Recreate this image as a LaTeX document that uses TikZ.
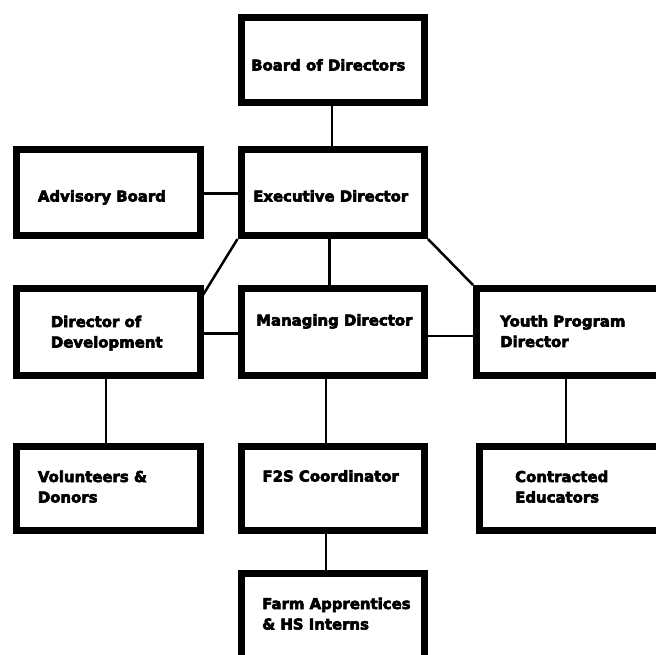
\documentclass[tikz,border=0pt]{standalone}
\usepackage{fontspec}
\newfontfamily\lblfont{DejaVu Sans}[BoldFeatures={FakeBold=4}]
\begin{document}
\begin{tikzpicture}[x=1pt,y=-1pt,
  box/.style={draw=black,line width=7pt,fill=white,rectangle,inner sep=0pt},
  lbl/.style={anchor=base west,inner sep=0pt,align=left,text=black,
    font=\lblfont\bfseries\fontsize{14.9}{20.5}\selectfont},
  conn/.style={draw=black,line width=2.5pt}]
\useasboundingbox (0,0) rectangle (656,654);
\clip (0,0) rectangle (656,654);
\fill[white] (0,0) rectangle (656,654);
% coordinates for connector positions
\coordinate (xa) at (331.8,0);
\coordinate (xb) at (329.3,0);
\coordinate (xc) at (326,0);
\coordinate (xd) at (106,0);
\coordinate (xe) at (566,0);
\coordinate (ya) at (0,193.3);
\coordinate (yb) at (0,333.3);
\coordinate (yc) at (0,336);
\coordinate (devhit) at (200.5,299);
% boxes
\node[box,minimum width=183.5pt,minimum height=84.5pt] (board) at (332.75,59.75) {};
\node[box,minimum width=183.5pt,minimum height=86pt] (exec) at (332.75,192.5) {};
\node[box,minimum width=184.5pt,minimum height=86pt] (adv) at (108.25,192.5) {};
\node[box,minimum width=184.5pt,minimum height=87pt] (dev) at (108.25,332) {};
\node[box,minimum width=183.5pt,minimum height=87pt] (mgr) at (332.75,332) {};
\node[box,minimum width=200pt,minimum height=87pt] (youth) at (576.5,332) {};
\node[box,minimum width=184.5pt,minimum height=83.5pt] (vol) at (108.25,488.25) {};
\node[box,minimum width=183.5pt,minimum height=83.5pt] (f2s) at (332.75,488.25) {};
\node[box,minimum width=197pt,minimum height=83.5pt] (contr) at (578,488.25) {};
\node[box,minimum width=183.5pt,minimum height=103.5pt] (farm) at (332.75,624.75) {};
% connectors
\draw[conn] (board.south -| xa) -- (exec.north -| xa);
\draw[conn] (adv.east |- ya) -- (exec.west |- ya);
\draw[conn] (exec.south west) -- (devhit);
\draw[conn] (exec.south -| xb) -- (mgr.north -| xb);
\draw[conn] (exec.south east) -- (youth.north west);
\draw[conn] (dev.east |- yb) -- (mgr.west |- yb);
\draw[conn] (mgr.east |- yc) -- (youth.west |- yc);
\draw[conn] (dev.south -| xd) -- (vol.north -| xd);
\draw[conn] (mgr.south -| xc) -- (f2s.north -| xc);
\draw[conn] (youth.south -| xe) -- (contr.north -| xe);
\draw[conn] (f2s.south -| xc) -- (farm.north -| xc);
% labels (base anchor = baseline of the last line)
\node[lbl] (boardT) at (251,70.5) {Board of Directors};
\node[lbl] (execT) at (253,201.5) {Executive Director};
\node[lbl] (advT) at (37.7,201.5) {Advisory Board};
\node[lbl] (devT) at (50.7,347.5) {Director of\\Development};
\node[lbl] (mgrT) at (256,325.5) {Managing Director};
\node[lbl] (youthT) at (500,347) {Youth Program\\Director};
\node[lbl] (volT) at (37.7,502.5) {Volunteers \&\\Donors};
\node[lbl] (f2sT) at (262.3,481.5) {F2S Coordinator};
\node[lbl] (contrT) at (515,502.5) {Contracted\\Educators};
\node[lbl] (farmT) at (262,629.5) {Farm Apprentices\\\& HS Interns};
\end{tikzpicture}
\end{document}
